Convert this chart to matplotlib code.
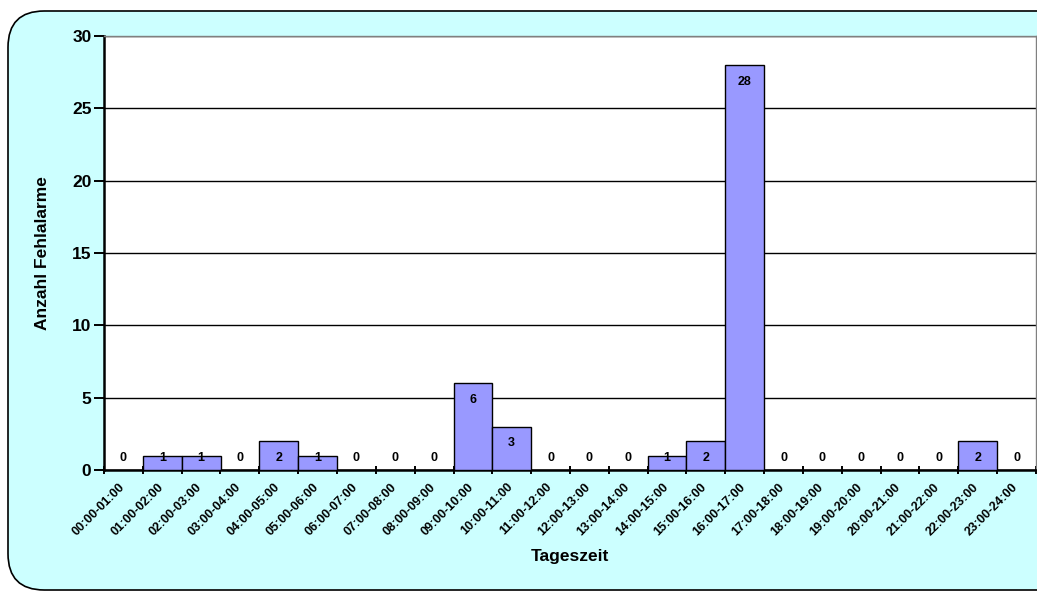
import matplotlib
matplotlib.use("Agg")
import matplotlib.pyplot as plt
from matplotlib.patches import FancyBboxPatch
import numpy as np

plt.rcParams["font.family"] = ["Liberation Sans", "DejaVu Sans"]
plt.rcParams["font.weight"] = "bold"

# Fehlalarme je Stunde
zeitraeume = [f"{h:02d}:00-{h + 1:02d}:00" for h in range(24)]
anzahl = [0, 1, 1, 0, 2, 1, 0, 0, 0, 6, 3, 0, 0, 0, 1, 2, 28, 0, 0, 0, 0, 0, 2, 0]
y_ticks = [0, 5, 10, 15, 20, 25, 30]

W, H = 1037, 592
fig = plt.figure(figsize=(W / 100, H / 100), dpi=100)
fig.patch.set_facecolor("white")

# abgerundeter Diagrammhintergrund
bg = FancyBboxPatch((8 / W, 2 / H), 1.2, (H - 13) / H,
                    boxstyle="round,pad=0,rounding_size=0.035",
                    transform=fig.transFigure, facecolor="#CCFFFF",
                    edgecolor="black", linewidth=1.2, zorder=-1,
                    mutation_aspect=W / H)
fig.patches.append(bg)

ax = fig.add_axes([104 / W, (H - 470) / H, (1036 - 104) / W, (470 - 36) / H])
ax.set_facecolor("white")

x = np.arange(len(anzahl))
ax.bar(x, anzahl, width=1.0, color="#9999FF", edgecolor="black", linewidth=1.0, zorder=3)

for i, v in enumerate(anzahl):
    ax.annotate(str(v), (i, max(v, 2)), xytext=(0, -12), textcoords="offset points",
                ha="center", va="center", fontsize=9, fontweight="bold", zorder=4)

ax.set_xlim(-0.5, len(anzahl) - 0.5)
ax.set_ylim(0, 30)
ax.set_yticks(y_ticks)
ax.set_yticklabels([str(t) for t in y_ticks], fontsize=12.5, fontweight="bold")
ax.yaxis.grid(True, color="black", linewidth=1.0, zorder=1)
ax.set_axisbelow(True)

# Teilstriche an den Kategoriegrenzen, Beschriftung knapp links der Mitte
ax.set_xticks(np.arange(len(anzahl) + 1) - 0.5)
ax.set_xticklabels([])
ax.set_xticks(x - 0.13, minor=True)
ax.set_xticklabels(zeitraeume, minor=True, rotation=45, ha="right",
                   rotation_mode="anchor", fontsize=9, fontweight="bold")
ax.tick_params(axis="x", which="minor", length=0, pad=8)
ax.tick_params(axis="x", which="major", length=6, width=1.4, direction="inout")
ax.tick_params(axis="y", length=7, width=1.4, direction="out", pad=2)

for side in ["top", "right"]:
    ax.spines[side].set_color("#808080")
    ax.spines[side].set_linewidth(1.0)
for side in ["left", "bottom"]:
    ax.spines[side].set_color("black")
    ax.spines[side].set_linewidth(1.8)

ax.set_xlabel("Tageszeit", fontsize=12.5, fontweight="bold", labelpad=8)
ax.set_ylabel("Anzahl Fehlalarme", fontsize=12.5, fontweight="bold", labelpad=16)

fig.savefig("out.png", dpi=100)
